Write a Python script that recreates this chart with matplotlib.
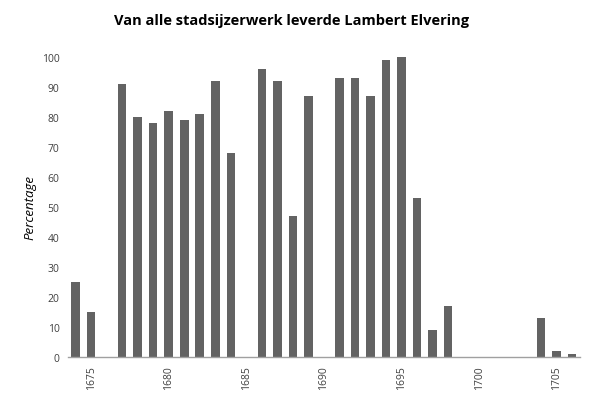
import numpy as np
import matplotlib.pyplot as plt

plt.rcParams['font.family'] = ['Open Sans', 'DejaVu Sans']

years = list(range(1674, 1707))
percentages = [25, 15, 0, 91, 80, 78, 82, 79, 81, 92, 68, 0, 96, 92, 47, 87,
               0, 93, 93, 87, 99, 100, 53, 9, 17, 0, 0, 0, 0, 0, 13, 2, 1]
tick_years = [1675, 1680, 1685, 1690, 1695, 1700, 1705]
y_ticks = list(range(0, 101, 10))

fig = plt.figure(figsize=(5.9, 4.02), dpi=100)
ax = fig.add_axes([0.115, 0.1095, 0.868, 0.7465])

x = np.arange(len(years))
ax.bar(x, percentages, width=0.55, color='#636363')

ax.set_xlim(-0.5, len(years) - 0.5)
ax.set_ylim(0, 100)
ax.set_xticks([years.index(y) for y in tick_years])
ax.set_xticklabels([str(y) for y in tick_years], rotation=90, fontsize=7.5, color='#404040')
ax.set_yticks(y_ticks)
ax.set_yticklabels([str(v) for v in y_ticks], fontsize=7.5, color='#404040')
ax.tick_params(length=0, pad=6)

for side in ['top', 'right', 'left']:
    ax.spines[side].set_visible(False)
ax.spines['bottom'].set_color('#a0a0a0')
ax.spines['bottom'].set_linewidth(1)

ax.set_ylabel('Percentage', fontsize=9.5, style='italic', labelpad=4)
fig.suptitle('Van alle stadsijzerwerk leverde Lambert Elvering', fontsize=10.5,
             fontweight='bold', x=0.495, y=0.965)

fig.savefig('out.png', dpi=100)
